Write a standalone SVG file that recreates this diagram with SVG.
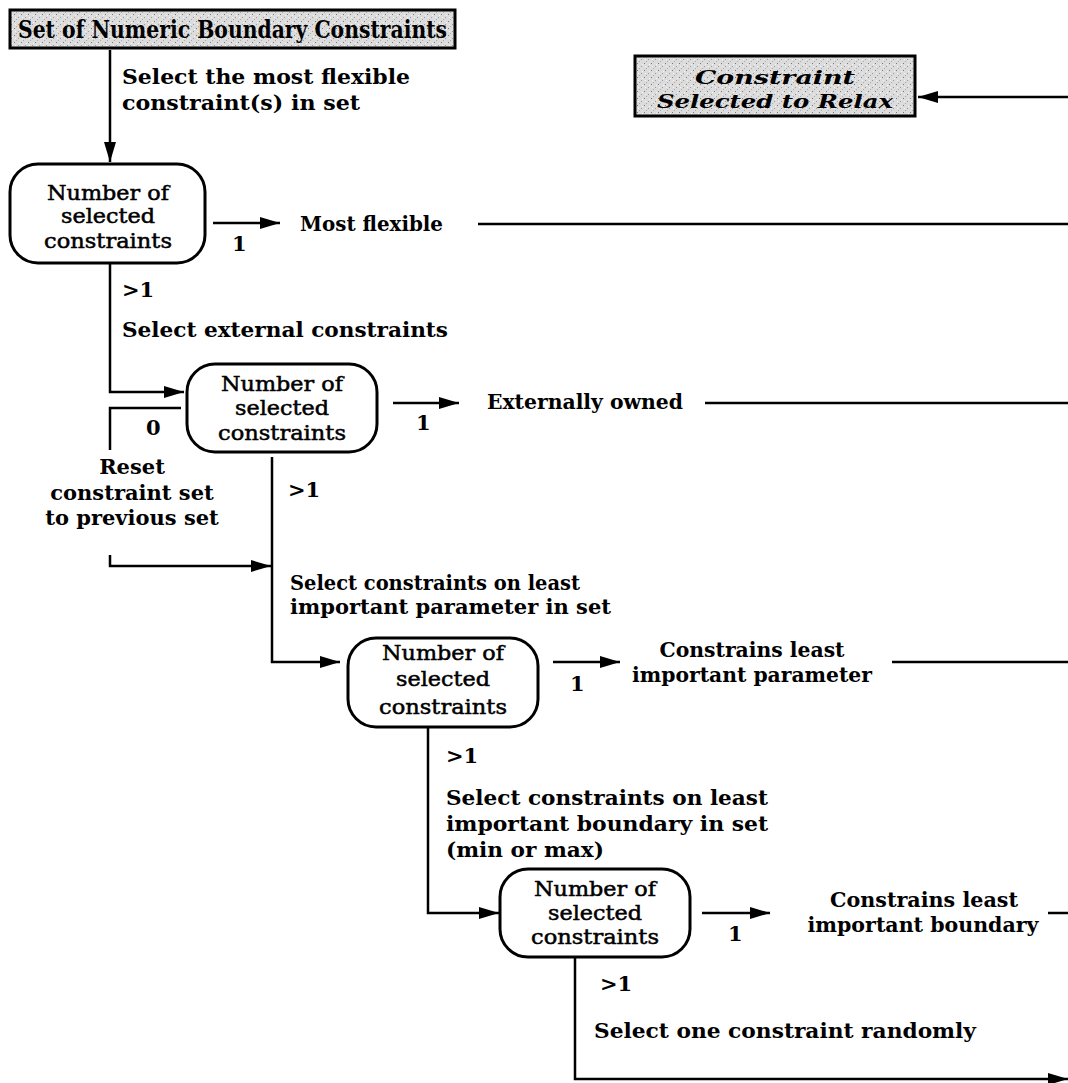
<svg xmlns="http://www.w3.org/2000/svg" width="1068" height="1083" viewBox="0 0 1068 1083">
  <style>
    .lbl { font-family: "DejaVu Serif", "Liberation Serif", serif; font-weight: bold; font-size: 21px; fill: #000; }
    .ntx { font-family: "DejaVu Serif", "Liberation Serif", serif; font-size: 20px; fill: #000; stroke: #000; stroke-width: 0.5; text-anchor: middle; }
    .hdr { font-family: "DejaVu Serif", "Liberation Serif", serif; font-weight: bold; font-size: 24px; fill: #000; }
    .ttl { font-family: "DejaVu Serif", "Liberation Serif", serif; font-weight: bold; font-style: italic; font-size: 19px; fill: #000; text-anchor: middle; }
    .node { fill: #fff; stroke: #000; stroke-width: 3; }
    .box { fill: url(#stipple); stroke: #000; stroke-width: 3; }
    .wire { fill: none; stroke: #000; stroke-width: 2.5; }
  </style>
  <defs>
    <pattern id="stipple" width="7" height="7" patternUnits="userSpaceOnUse">
      <rect width="7" height="7" fill="#dcdcdc"/>
      <rect x="0" y="0" width="1" height="1" fill="#7a7a7a"/>
      <rect x="4" y="3" width="1" height="1" fill="#999"/>
      <rect x="2" y="5" width="1" height="1" fill="#aaa"/>
      <rect x="5" y="1" width="1" height="1" fill="#f6f6f6"/>
      <rect x="1" y="3" width="1" height="1" fill="#f6f6f6"/>
    </pattern>
    <marker id="ah" viewBox="0 0 20 12" refX="20" refY="6" markerWidth="20" markerHeight="12" markerUnits="userSpaceOnUse" orient="auto">
      <path d="M0,0 L20,6 L0,12 Z" fill="#000"/>
    </marker>
  </defs>

  <!-- source set -->
  <g id="source">
    <rect class="box" x="10" y="10" width="445" height="38"/>
    <text class="hdr" x="18" y="38" textLength="429" lengthAdjust="spacingAndGlyphs">Set of Numeric Boundary Constraints</text>
  </g>

  <!-- result: two-line italic title -->
  <g id="result">
    <rect class="box" x="635" y="56" width="280" height="60"/>
    <text class="ttl" x="775" y="84" textLength="160" lengthAdjust="spacingAndGlyphs">Constraint</text>
    <text class="ttl" x="775" y="108" textLength="236" lengthAdjust="spacingAndGlyphs">Selected to Relax</text>
  </g>

  <!-- decision nodes -->
  <g id="node1">
    <rect class="node" x="10" y="164" width="195" height="99" rx="28"/>
    <text class="ntx" x="108" y="200" textLength="122" lengthAdjust="spacingAndGlyphs">Number of</text>
    <text class="ntx" x="108" y="223" textLength="94" lengthAdjust="spacingAndGlyphs">selected</text>
    <text class="ntx" x="108" y="248" textLength="128" lengthAdjust="spacingAndGlyphs">constraints</text>
  </g>
  <g id="node2">
    <rect class="node" x="187" y="364" width="190" height="88" rx="28"/>
    <text class="ntx" x="282" y="391" textLength="122" lengthAdjust="spacingAndGlyphs">Number of</text>
    <text class="ntx" x="282" y="415" textLength="94" lengthAdjust="spacingAndGlyphs">selected</text>
    <text class="ntx" x="282" y="440" textLength="128" lengthAdjust="spacingAndGlyphs">constraints</text>
  </g>
  <g id="node3">
    <rect class="node" x="348" y="638" width="190" height="89" rx="28"/>
    <text class="ntx" x="443" y="660" textLength="122" lengthAdjust="spacingAndGlyphs">Number of</text>
    <text class="ntx" x="443" y="686" textLength="94" lengthAdjust="spacingAndGlyphs">selected</text>
    <text class="ntx" x="443" y="714" textLength="128" lengthAdjust="spacingAndGlyphs">constraints</text>
  </g>
  <g id="node4">
    <rect class="node" x="500" y="869" width="190" height="88" rx="28"/>
    <text class="ntx" x="595" y="896" textLength="122" lengthAdjust="spacingAndGlyphs">Number of</text>
    <text class="ntx" x="595" y="920" textLength="94" lengthAdjust="spacingAndGlyphs">selected</text>
    <text class="ntx" x="595" y="944" textLength="128" lengthAdjust="spacingAndGlyphs">constraints</text>
  </g>

  <!-- connectors -->
  <g id="connectors">
    <line class="wire" x1="110" y1="50" x2="110" y2="162" marker-end="url(#ah)"/>
    <line class="wire" x1="1068" y1="97" x2="918" y2="97" marker-end="url(#ah)"/>

    <line class="wire" x1="213" y1="223" x2="280" y2="223" marker-end="url(#ah)"/>
    <line class="wire" x1="478" y1="224" x2="1068" y2="224"/>
    <polyline class="wire" points="110,263 110,392 184,392" marker-end="url(#ah)"/>

    <line class="wire" x1="393" y1="403" x2="459" y2="403" marker-end="url(#ah)"/>
    <line class="wire" x1="705" y1="403" x2="1068" y2="403"/>
    <polyline class="wire" points="181,408 110,408 110,450"/>
    <polyline class="wire" points="110,555 110,566 271,566" marker-end="url(#ah)"/>
    <polyline class="wire" points="272,457 272,662 340,662" marker-end="url(#ah)"/>

    <line class="wire" x1="553" y1="662" x2="620" y2="662" marker-end="url(#ah)"/>
    <line class="wire" x1="892" y1="662" x2="1068" y2="662"/>
    <polyline class="wire" points="428,727 428,913 499,913" marker-end="url(#ah)"/>

    <line class="wire" x1="702" y1="913" x2="770" y2="913" marker-end="url(#ah)"/>
    <line class="wire" x1="1048" y1="913" x2="1068" y2="913"/>
    <polyline class="wire" points="575,957 575,1079 1068,1079" marker-end="url(#ah)"/>
  </g>

  <!-- connector labels -->
  <g id="labels">
    <text class="lbl" x="122" y="84" textLength="288" lengthAdjust="spacingAndGlyphs">Select the most flexible</text>
    <text class="lbl" x="122" y="110" textLength="238" lengthAdjust="spacingAndGlyphs">constraint(s)  in set</text>

    <text class="lbl" x="232" y="251">1</text>
    <text class="lbl" x="300" y="231" textLength="143" lengthAdjust="spacingAndGlyphs">Most flexible</text>
    <text class="lbl" x="122" y="297">&gt;1</text>
    <text class="lbl" x="122" y="337" textLength="326" lengthAdjust="spacingAndGlyphs">Select external constraints</text>

    <text class="lbl" x="416" y="430">1</text>
    <text class="lbl" x="487" y="409" textLength="196" lengthAdjust="spacingAndGlyphs">Externally owned</text>
    <text class="lbl" x="146" y="435">0</text>
    <text class="lbl" x="132" y="474" text-anchor="middle">Reset</text>
    <text class="lbl" x="132" y="500" text-anchor="middle">constraint set</text>
    <text class="lbl" x="132" y="525" text-anchor="middle">to previous set</text>
    <text class="lbl" x="288" y="497">&gt;1</text>
    <text class="lbl" x="290" y="590" textLength="290" lengthAdjust="spacingAndGlyphs">Select constraints on least</text>
    <text class="lbl" x="290" y="614" textLength="321" lengthAdjust="spacingAndGlyphs">important parameter in set</text>

    <text class="lbl" x="570" y="691">1</text>
    <text class="lbl" x="752" y="657" text-anchor="middle" textLength="185" lengthAdjust="spacingAndGlyphs">Constrains least</text>
    <text class="lbl" x="752" y="682" text-anchor="middle" textLength="240" lengthAdjust="spacingAndGlyphs">important parameter</text>
    <text class="lbl" x="446" y="763">&gt;1</text>
    <text class="lbl" x="446" y="805" textLength="322" lengthAdjust="spacingAndGlyphs">Select constraints on least</text>
    <text class="lbl" x="446" y="831" textLength="322" lengthAdjust="spacingAndGlyphs">important boundary in set</text>
    <text class="lbl" x="446" y="857" textLength="158" lengthAdjust="spacingAndGlyphs">(min or max)</text>

    <text class="lbl" x="728" y="941">1</text>
    <text class="lbl" x="924" y="907" text-anchor="middle" textLength="188" lengthAdjust="spacingAndGlyphs">Constrains least</text>
    <text class="lbl" x="923" y="932" text-anchor="middle" textLength="231" lengthAdjust="spacingAndGlyphs">important boundary</text>
    <text class="lbl" x="600" y="991">&gt;1</text>
    <text class="lbl" x="594" y="1038" textLength="382" lengthAdjust="spacingAndGlyphs">Select one constraint randomly</text>
  </g>
</svg>
